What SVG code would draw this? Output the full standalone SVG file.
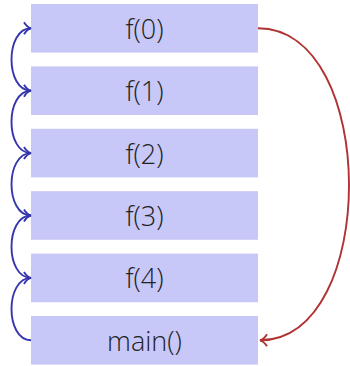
<svg xmlns="http://www.w3.org/2000/svg" width="350" height="366" viewBox="0 0 350 366">
<defs>
<style>
.box{fill:#c8c8f8;}
.lbl{font-family:"Open Sans","Noto Sans",sans-serif;font-size:27px;font-weight:300;fill:#222;text-anchor:middle;dominant-baseline:central;}
.blue{fill:none;stroke:#3535ad;stroke-width:1.9;}
.red{fill:none;stroke:#b03232;stroke-width:1.9;}
</style>
<marker id="ab" markerWidth="12" markerHeight="14" refX="10" refY="7" orient="auto" markerUnits="userSpaceOnUse">
<path d="M3,1 Q6,6 10,7 Q6,8 3,13" fill="none" stroke="#3535ad" stroke-width="1.9"/>
</marker>
<marker id="ar" markerWidth="12" markerHeight="14" refX="10" refY="7" orient="auto" markerUnits="userSpaceOnUse">
<path d="M3,1 Q6,6 10,7 Q6,8 3,13" fill="none" stroke="#b03232" stroke-width="1.9"/>
</marker>
</defs>
<g id="n0"><rect class="box" x="31" y="4" width="227" height="48.6"/><text class="lbl" x="144.5" y="28.3">f(0)</text></g>
<g id="n1"><rect class="box" x="31" y="66.4" width="227" height="48.6"/><text class="lbl" x="144.5" y="90.7">f(1)</text></g>
<g id="n2"><rect class="box" x="31" y="128.8" width="227" height="48.6"/><text class="lbl" x="144.5" y="153.1">f(2)</text></g>
<g id="n3"><rect class="box" x="31" y="191.2" width="227" height="48.6"/><text class="lbl" x="144.5" y="215.5">f(3)</text></g>
<g id="n4"><rect class="box" x="31" y="253.6" width="227" height="48.6"/><text class="lbl" x="144.5" y="277.9">f(4)</text></g>
<g id="main"><rect class="box" x="31" y="316" width="227" height="48.6"/><text class="lbl" x="144.5" y="340.3">main()</text></g>
<g id="connectors">
<path class="blue" d="M31,340.3 C5,340.3 5,277.9 31,277.9" marker-end="url(#ab)"/>
<path class="blue" d="M31,277.9 C5,277.9 5,215.5 31,215.5" marker-end="url(#ab)"/>
<path class="blue" d="M31,215.5 C5,215.5 5,153.1 31,153.1" marker-end="url(#ab)"/>
<path class="blue" d="M31,153.1 C5,153.1 5,90.7 31,90.7" marker-end="url(#ab)"/>
<path class="blue" d="M31,90.7 C5,90.7 5,28.3 31,28.3" marker-end="url(#ab)"/>
<path class="red" d="M258,28.3 C379,28.3 379,340.3 260,340.3" marker-end="url(#ar)"/>
</g>
</svg>
